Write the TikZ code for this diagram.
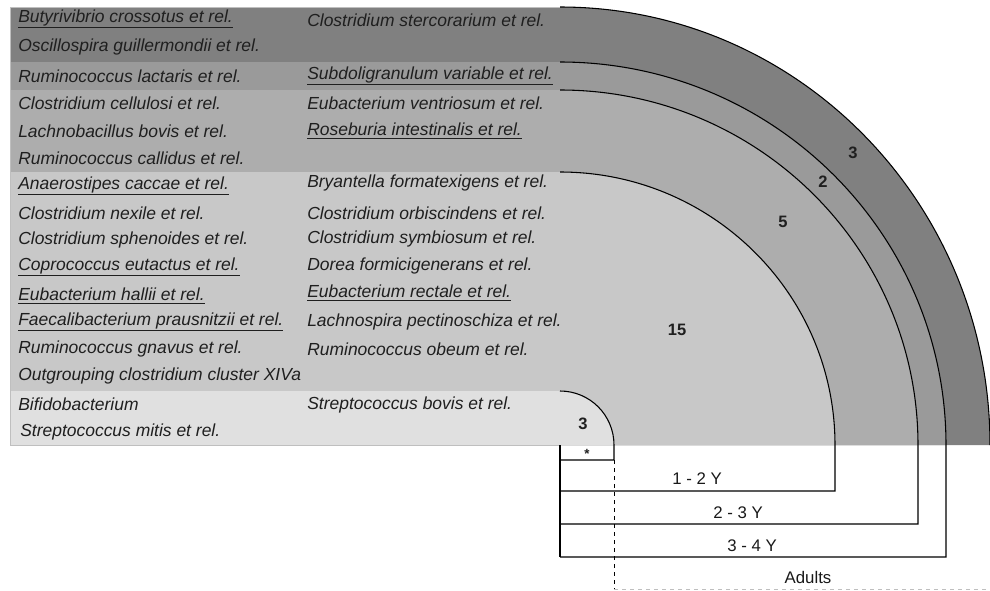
\documentclass[tikz,border=0pt]{standalone}
\usepackage{fontspec}
\setmainfont{Liberation Sans}
\usepackage{xcolor}

\definecolor{bandA}{HTML}{808080}
\definecolor{bandB}{HTML}{9A9A9A}
\definecolor{bandC}{HTML}{ADADAD}
\definecolor{bandD}{HTML}{C8C8C8}
\definecolor{bandE}{HTML}{E0E0E0}

\tikzset{
  taxon/.style={anchor=west, inner sep=0pt, text=black!88, font=\fontsize{13.1}{15}\selectfont\itshape},
  count/.style={inner sep=0pt, text=black!88, font=\fontsize{12.4}{14}\selectfont\bfseries},
  age/.style={inner sep=0pt, text=black!90, font=\fontsize{12.6}{14}\selectfont},
  ring/.style={black, line width=0.8pt}
}

\begin{document}
\begin{tikzpicture}[x=0.75pt,y=0.75pt]
    \useasboundingbox (0,0) rectangle (990,-590);

    % bandas (de afuera hacia adentro)
    \fill[bandA] (10,-7) -- (560,-7) arc[start angle=90, end angle=0, x radius=430, y radius=438] -- (10,-445) -- cycle;
    \fill[bandB] (10,-62) -- (560,-62) arc[start angle=90, end angle=0, x radius=386, y radius=383] -- (10,-445) -- cycle;
    \fill[bandC] (10,-90) -- (560,-90) arc[start angle=90, end angle=0, x radius=358, y radius=355] -- (10,-445) -- cycle;
    \fill[bandD] (10,-172) -- (560,-172) arc[start angle=90, end angle=0, x radius=275, y radius=273] -- (10,-445) -- cycle;
    \fill[bandE] (10,-391) -- (560,-391) arc[start angle=90, end angle=0, x radius=54, y radius=54] -- (10,-445) -- cycle;
    \draw[black!25, line width=0.6pt] (560,-7) -- (10,-7) -- (10,-445) -- (560,-445);

    % arcos
    \draw[ring] (560,-7) arc[start angle=90, end angle=0, x radius=430, y radius=438];
    \draw[ring] (560,-62) arc[start angle=90, end angle=0, x radius=386, y radius=383] -- (946,-557) -- (560,-557);
    \draw[ring] (560,-90) arc[start angle=90, end angle=0, x radius=358, y radius=355] -- (918,-524) -- (560,-524);
    \draw[ring] (560,-172) arc[start angle=90, end angle=0, x radius=275, y radius=273] -- (835,-491) -- (560,-491);
    \draw[ring] (560,-391) arc[start angle=90, end angle=0, x radius=54, y radius=54] -- (614,-460) -- (560,-460);

    % edades
    \draw[ring] (560,-445) -- (560,-557);
    \draw[black, line width=0.7pt, dashed] (614,-460) -- (614,-589);
    \draw[black!25, line width=0.6pt, dashed] (614,-589) -- (990,-589);

    % columna izquierda
    \node[taxon] (l1) at (18,-19) {\underline{Butyrivibrio crossotus et rel.}};
    \node[taxon] (l2) at (18,-47) {Oscillospira guillermondii et rel.};
    \node[taxon] (l3) at (18,-76) {Ruminococcus lactaris et rel.};
    \node[taxon] (l4) at (18,-103) {Clostridium cellulosi et rel.};
    \node[taxon] (l5) at (18,-131) {Lachnobacillus bovis et rel.};
    \node[taxon] (l6) at (18,-158) {Ruminococcus callidus et rel.};
    \node[taxon] (l7) at (18,-186) {\underline{Anaerostipes caccae et rel.}};
    \node[taxon] (l8) at (18,-213) {Clostridium nexile et rel.};
    \node[taxon] (l9) at (18,-240) {Clostridium sphenoides et rel.};
    \node[taxon] (l10) at (18,-267) {\underline{Coprococcus eutactus et rel.}};
    \node[taxon] (l11) at (18,-296) {\underline{Eubacterium hallii et rel.}};
    \node[taxon] (l12) at (18,-322) {\underline{Faecalibacterium prausnitzii et rel.}};
    \node[taxon] (l13) at (18,-349) {Ruminococcus gnavus et rel.};
    \node[taxon] (l14) at (18,-376) {Outgrouping clostridium cluster XIVa};
    \node[taxon] (l15) at (18,-404) {Bifidobacterium};
    \node[taxon] (l16) at (20,-432) {Streptococcus mitis et rel.};

    % columna derecha
    \node[taxon] (r1) at (307,-20) {Clostridium stercorarium et rel.};
    \node[taxon] (r2) at (307,-76) {\underline{Subdoligranulum variable et rel.}};
    \node[taxon] (r3) at (307,-103) {Eubacterium ventriosum et rel.};
    \node[taxon] (r4) at (307,-131) {\underline{Roseburia intestinalis et rel.}};
    \node[taxon] (r5) at (307,-183) {Bryantella formatexigens et rel.};
    \node[taxon] (r6) at (307,-213) {Clostridium orbiscindens et rel.};
    \node[taxon] (r7) at (307,-239) {Clostridium symbiosum et rel.};
    \node[taxon] (r8) at (307,-266) {Dorea formicigenerans et rel.};
    \node[taxon] (r9) at (307,-293) {\underline{Eubacterium rectale et rel.}};
    \node[taxon] (r10) at (307,-322) {Lachnospira pectinoschiza et rel.};
    \node[taxon] (r11) at (307,-349) {Ruminococcus obeum et rel.};
    \node[taxon] (r12) at (307,-405) {Streptococcus bovis et rel.};

    % numeros
    \node[count] (n1) at (583,-424) {3};
    \node[count] (n2) at (677,-330) {15};
    \node[count] (n3) at (783,-222) {5};
    \node[count] (n4) at (823,-182) {2};
    \node[count] (n5) at (853,-153) {3};
    \node[count, font=\fontsize{10}{12}\selectfont\bfseries] (star) at (587,-454) {*};

    % leyendas
    \node[age] (y1) at (697,-479) {1 - 2 Y};
    \node[age] (y2) at (738,-513) {2 - 3 Y};
    \node[age] (y3) at (752,-546) {3 - 4 Y};
    \node[age] (y4) at (808,-577) {Adults};

\end{tikzpicture}
\end{document}
